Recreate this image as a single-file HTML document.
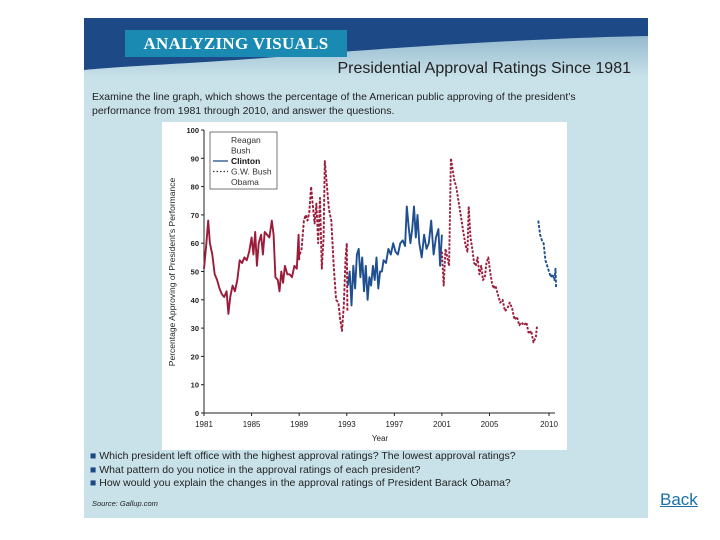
<!DOCTYPE html>
<html><head><meta charset="utf-8"><style>
body{margin:0;width:720px;height:540px;background:#fff;position:relative;overflow:hidden;font-family:"Liberation Sans",sans-serif}
#panel{position:absolute;left:84px;top:18px;width:564px;height:500px;background:#c9e2e9}
.t{position:absolute;color:#222;white-space:nowrap}
#back{position:absolute;left:660px;top:490px;font-size:17px;color:#1a6fa8;text-decoration:underline}
</style></head><body>
<div id="panel">
<svg width="564" height="60" style="position:absolute;left:0;top:0">
<defs><linearGradient id="g" x1="0" y1="0" x2="0" y2="1"><stop offset="0" stop-color="#7fa9c4"/><stop offset="1" stop-color="#c9e2e9"/></linearGradient></defs>
<path d="M0 0H564V60H0Z" fill="url(#g)"/>
<path d="M0 0H564V18C450 20 300 30 180 40C100 46 40 48 0 52Z" fill="#1d4a86"/>
</svg>
<div style="position:absolute;left:41px;top:12px;width:222px;height:27px;background:#1a8ab3;color:#fff;font:bold 17px 'Liberation Serif',serif;line-height:27px;text-align:center;letter-spacing:0.3px">ANALYZING VISUALS</div>
<div class="t" style="right:17px;top:42px;font:16px 'Liberation Sans',sans-serif">Presidential Approval Ratings Since 1981</div>
<div class="t" style="left:8px;top:72px;font-size:10.5px;line-height:14px">Examine the line graph, which shows the percentage of the American public approving of the president’s<br>performance from 1981 through 2010, and answer the questions.</div>
<div class="t" style="left:6px;top:432px;font-size:10.5px;line-height:13.5px">
<div><span style="color:#1d4a86">■</span> Which president left office with the highest approval ratings? The lowest approval ratings?</div>
<div><span style="color:#1d4a86">■</span> What pattern do you notice in the approval ratings of each president?</div>
<div><span style="color:#1d4a86">■</span> How would you explain the changes in the approval ratings of President Barack Obama?</div></div>
<div class="t" style="left:8px;top:481px;font-size:7.5px;font-style:italic">Source: Gallup.com</div>
</div>
<svg id="chart" width="720" height="540" style="position:absolute;left:0;top:0"></svg>
<a id="back" href="#">Back</a>
<script>
const yTicks=[0,10,20,30,40,50,60,70,80,90,100];
const xTicks=[1981,1985,1989,1993,1997,2001,2005,2010];
const reaganX=[1981.0,1981.2,1981.35,1981.5,1981.7,1981.9,1982.1,1982.3,1982.5,1982.7,1982.9,1983.05,1983.2,1983.4,1983.6,1983.8,1984.0,1984.2,1984.4,1984.6,1984.8,1985.0,1985.15,1985.3,1985.45,1985.6,1985.8,1985.95,1986.1,1986.3,1986.5,1986.7,1986.85,1987.0,1987.2,1987.35,1987.5,1987.65,1987.8,1988.0,1988.2,1988.4,1988.6,1988.8,1988.95,1989.0];
const reaganY=[51,60,68,60,56,49,47,44,42,41,43,35,41,45,43,47,54,53,55,54,57,62,56,64,52,60,63,56,64,63,62,68,63,48,47,43,50,46,52,49,49,48,52,51,63,54];
const bushX=[1989.05,1989.2,1989.4,1989.55,1989.7,1989.85,1990.0,1990.15,1990.3,1990.45,1990.6,1990.75,1990.9,1991.05,1991.15,1991.3,1991.5,1991.7,1991.9,1992.1,1992.3,1992.45,1992.6,1992.75,1992.9,1993.0,1993.05];
const bushY=[56,58,68,70,68,71,80,73,67,74,60,76,51,62,89,82,72,68,52,40,39,33,29,38,55,60,36];
const clintonX=[1993.1,1993.25,1993.4,1993.55,1993.7,1993.85,1994.0,1994.15,1994.3,1994.45,1994.6,1994.75,1994.9,1995.05,1995.2,1995.35,1995.5,1995.65,1995.8,1995.95,1996.1,1996.3,1996.5,1996.7,1996.9,1997.1,1997.3,1997.5,1997.7,1997.9,1998.05,1998.2,1998.35,1998.5,1998.65,1998.8,1998.95,1999.1,1999.3,1999.5,1999.7,1999.9,2000.1,2000.3,2000.5,2000.7,2000.85,2001.0];
const clintonY=[45,50,38,52,44,56,58,48,55,43,52,40,48,45,52,47,55,44,50,50,54,53,58,56,60,57,56,60,61,59,73,66,60,65,73,62,70,60,55,63,58,60,68,56,62,65,52,63];
const gwbX=[2001.0,2001.15,2001.3,2001.45,2001.6,2001.75,2001.9,2002.05,2002.2,2002.35,2002.5,2002.65,2002.8,2003.0,2003.15,2003.25,2003.4,2003.55,2003.7,2003.85,2004.0,2004.15,2004.3,2004.45,2004.6,2004.75,2004.9,2005.05,2005.2,2005.35,2005.5,2005.7,2005.9,2006.1,2006.3,2006.5,2006.7,2006.9,2007.1,2007.3,2007.5,2007.7,2007.9,2008.1,2008.3,2008.5,2008.7,2008.9,2009.0];
const gwbY=[57,45,58,55,52,90,86,82,80,76,72,68,64,59,57,73,62,58,53,52,55,49,52,47,48,53,55,50,46,44,45,42,39,40,36,37,39,37,33,34,31,32,31,32,28,29,25,27,31];
const obamaX=[2009.1,2009.25,2009.4,2009.55,2009.7,2009.85,2010.0,2010.15,2010.3,2010.45,2010.55,2010.6];
const obamaY=[68,63,61,60,54,52,50,48,49,47,51,44];

const svg=document.getElementById('chart');
const NS='http://www.w3.org/2000/svg';
const x0=204,x1=549,y0=413,y1=130;
const sx=v=>x0+(v-1981)*(x1-x0)/(2010-1981);
const sy=v=>y0-(v)*(y0-y1)/100;
function mk(tag,attrs){const e=document.createElementNS(NS,tag);for(const k in attrs)e.setAttribute(k,attrs[k]);svg.appendChild(e);return e;}
const bg=mk('rect',{x:162,y:122,width:405,height:328,fill:'#fff'});


const ya=mk('line',{x1:x0,y1:y1,x2:x0,y2:y0,stroke:'#222','stroke-width':1});


const xa=mk('line',{x1:x0,y1:y0,x2:555,y2:y0,stroke:'#222','stroke-width':1});


yTicks.forEach(v=>{
 const l=mk('line',{x1:x0-3,y1:sy(v),x2:x0,y2:sy(v),stroke:'#222'});
 
 
 const t=mk('text',{x:x0-5,y:sy(v)+3,'text-anchor':'end','font-size':'7.5','font-weight':'bold',fill:'#222','font-family':'Liberation Sans, sans-serif'});
 t.textContent=v;
 
 
});
xTicks.forEach(v=>{
 const l=mk('line',{x1:sx(v),y1:y0,x2:sx(v),y2:y0+3,stroke:'#222'});
 
 
 const t=mk('text',{x:sx(v),y:y0+14,'text-anchor':'middle','font-size':'8',fill:'#222','font-family':'Liberation Sans, sans-serif'});
 t.textContent=v;
 
 
});
const xt=mk('text',{x:380,y:441,'text-anchor':'middle','font-size':'8',fill:'#222','font-family':'Liberation Sans, sans-serif'});
xt.textContent='Year';


const yt=mk('text',{x:175,y:272,'text-anchor':'middle','font-size':'8.5',fill:'#222','font-family':'Liberation Sans, sans-serif',transform:'rotate(-90 175 272)'});
yt.textContent='Percentage Approving of President’s Performance';


function series(xs,ys,color,dash,name){
 const d=xs.map((x,i)=>(i?'L':'M')+sx(x).toFixed(1)+' '+sy(ys[i]).toFixed(1)).join('');
 const p=mk('path',{d:d,fill:'none',stroke:color,'stroke-width':1.9,'stroke-dasharray':dash,'stroke-linejoin':'round'});
 
 
}
series(reaganX,reaganY,'#9b1b3a','none','reagan-line');
series(bushX,bushY,'#9b1b3a','3 1.5','bush-line');
series(clintonX,clintonY,'#1f4f8f','none','clinton-line');
series(gwbX,gwbY,'#9b1b3a','2.5 1.5','gw-bush-line');
series(obamaX,obamaY,'#1f4f8f','3 1.5','obama-line');
const lb=mk('rect',{x:210,y:132,width:67,height:57,fill:'#fff',stroke:'#555','stroke-width':0.8});


const names=['Reagan','Bush','Clinton','G.W. Bush','Obama'];
names.forEach((n,i)=>{
 const y=143+i*10.5;
 const t=mk('text',{x:231,y:y,'font-size':'8.5',fill:i==2?'#111':'#333','font-weight':i==2?'bold':'normal','font-family':'Liberation Sans, sans-serif'});
 t.textContent=n;
 
 
});
const l1=mk('line',{x1:213,y1:161,x2:228,y2:161,stroke:'#1f4f8f','stroke-width':1.3});


const l2=mk('line',{x1:213,y1:171.5,x2:228,y2:171.5,stroke:'#333','stroke-width':1.2,'stroke-dasharray':'1.5 2'});


</script>
</body></html>
